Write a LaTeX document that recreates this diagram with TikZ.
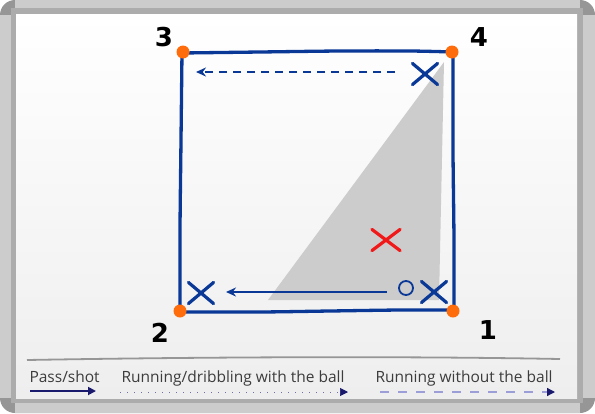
\documentclass[tikz,border=0pt]{standalone}
\usepackage{fontspec}
\setmainfont{Open Sans}
\newfontfamily\numfont{DejaVu Sans}
\usetikzlibrary{arrows.meta,shapes.misc}

\definecolor{pitchblue}{RGB}{10,56,150}
\definecolor{dotorange}{RGB}{255,108,12}
\definecolor{xred}{RGB}{240,24,24}
\definecolor{shadegray}{RGB}{204,204,204}
\definecolor{framelight}{RGB}{204,204,204}
\definecolor{framedark}{RGB}{172,172,172}
\definecolor{framecorner}{RGB}{150,150,150}
\definecolor{boardgray}{RGB}{238,238,238}
\definecolor{sepgray}{RGB}{150,150,150}
\definecolor{legendgray}{RGB}{60,60,60}
\definecolor{legendnavy}{RGB}{25,25,110}
\definecolor{dotblue}{RGB}{110,110,170}
\definecolor{runlilac}{RGB}{155,158,215}

\begin{document}
\begin{tikzpicture}[x=1pt,y=-1pt,
	corner/.style={circle,fill=dotorange,inner sep=0pt,minimum size=13pt},
	player/.style={cross out,draw=pitchblue,line width=3.2pt,line cap=round,
		minimum width=22pt,minimum height=18pt,inner sep=0pt},
	number/.style={font=\numfont\bfseries\fontsize{26}{26}\selectfont},
	legend/.style={font=\fontsize{15.5}{16}\selectfont,text=legendgray,anchor=base west},
	pitch/.style={pitchblue,line width=3.3pt,line cap=round},
	pass/.style={pitchblue,line width=2pt,-{Stealth[length=10pt,width=9pt]}}]

	\useasboundingbox (0,0) rectangle (595,413);

	% the board and its frame
	\fill[framecorner,rounded corners=15pt] (0,0) rectangle (595,413);
	\fill[framelight] (15,0) rectangle (580,8);
	\fill[framelight] (15,403) rectangle (580,413);
	\fill[framelight] (0,15) rectangle (11,398);
	\fill[framelight] (583,15) rectangle (595,398);
	\fill[framedark] (11,8) rectangle (583,403);
	\shade[top color=white,bottom color=boardgray] (16,14) rectangle (577,398);

	% area
	\fill[shadegray] (444,62) -- (268,300) -- (439,300) -- cycle;

	\def\pitchtop{(182,53) (260,52) (340,51) (410,51) (453,52)}
	\def\pitchright{(453,52) (453,150) (454,240) (454,311)}
	\def\pitchbottom{(180,312) (260,312) (330,311) (400,310) (454,310)}
	\def\pitchleft{(182,52) (181,140) (180,230) (180,312)}

	\draw[pitch] plot [smooth] coordinates {\pitchtop};
	\draw[pitch] plot [smooth] coordinates {\pitchright};
	\draw[pitch] plot [smooth] coordinates {\pitchbottom};
	\draw[pitch] plot [smooth] coordinates {\pitchleft};

	%\draw[step=10,gray,very thin] (0,0) grid (595,413);

	\coordinate (runstart) at (395,72);
	\coordinate (runend) at (196,72);
	\draw[pass,dash pattern=on 8pt off 6pt] (runstart) -- (runend);

	\coordinate (passstart) at (387,292);
	\coordinate (passend) at (226,292);
	\draw[pass] (passstart) -- (passend);

	\node[player] (p4) at (425,74) {};
	\node[player] (p1) at (434,292) {};
	\node[player] (p2) at (201,293) {};
	\node[player,draw=xred,minimum width=25pt] (def) at (386,240) {};
	\node[circle,draw=pitchblue,line width=1.8pt,minimum size=14pt,inner sep=0pt] (ball) at (406,288) {};

	\node[corner] (c1) at (453,311) {};
	\node[corner] (c2) at (180,311) {};
	\node[corner] (c3) at (183,52) {};
	\node[corner] (c4) at (452,52) {};

	\node[number] (n1) at (488,330) {1};
	\node[number] (n2) at (160,333) {2};
	\node[number] (n3) at (164,37) {3};
	\node[number] (n4) at (479,37) {4};

	% legend
	\draw[sepgray,line width=1.8pt] (27,360) .. controls (200,357) and (400,356) .. (560,359);

	\node[legend] (passtext) at (26,382) {Pass/shot};
	\coordinate (passA) at (30,391);
	\coordinate (passB) at (96,391);
	\draw[legendnavy,line width=1.8pt,-{Triangle[length=8pt,width=8pt]}] (passA) -- (passB);

	\node[legend] (dribtext) at (118,382) {Running/dribbling with the ball};
	\coordinate (dribA) at (120,392);
	\coordinate (dribB) at (348,392);
	\draw[dotblue,line width=0.7pt,dash pattern=on 1pt off 6pt,
		-{Triangle[length=8pt,width=8pt,color=legendnavy]}] (dribA) -- (dribB);

	\node[legend] (runtext) at (372,382) {Running without the ball};
	\coordinate (runA) at (380,392);
	\coordinate (runB) at (555,392);
	\draw[runlilac,line width=1.3pt,dash pattern=on 9pt off 9pt,
		-{Triangle[length=8pt,width=8pt,color=legendnavy]}] (runA) -- (runB);

\end{tikzpicture}
\end{document}
